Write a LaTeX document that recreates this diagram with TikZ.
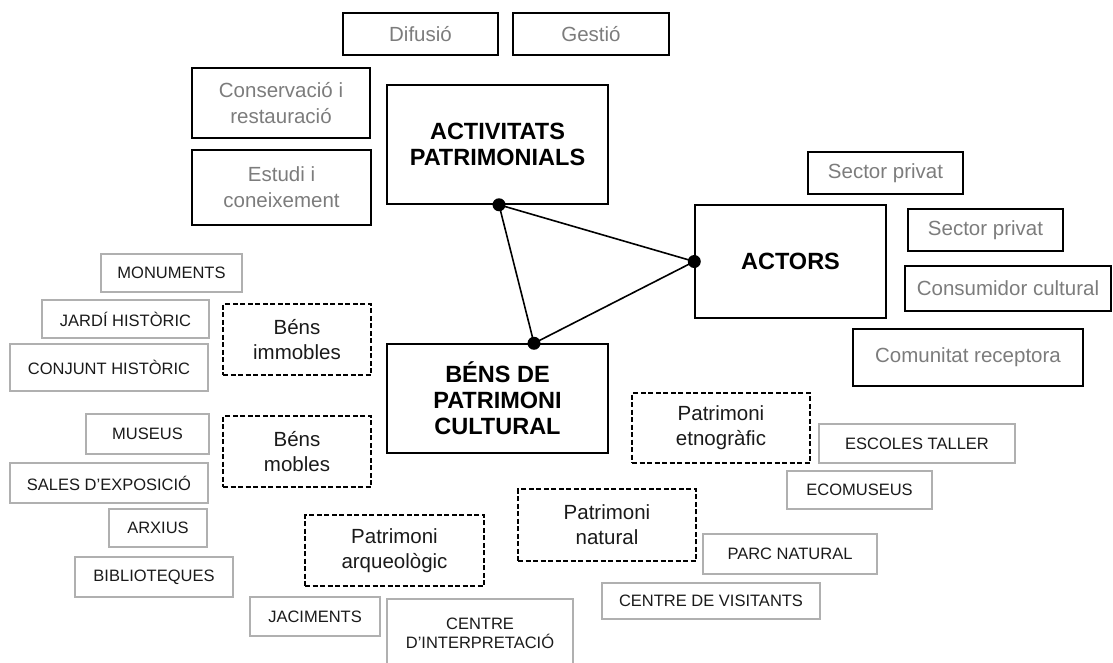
\documentclass[tikz,border=0pt]{standalone}
\usepackage{fontspec}
\setmainfont{Liberation Sans}

\definecolor{txtgray}{HTML}{7C7C7C}
\definecolor{boxgray}{HTML}{B0B0B0}
\definecolor{ink}{HTML}{1A1A1A}

\tikzset{
  sz/.style 2 args={minimum width=#1pt, minimum height=#2pt},
  mainbox/.style={draw=black, line width=1.5pt, inner sep=0pt, align=center,
    text=black, font=\fontsize{23.5}{26}\selectfont\bfseries},
  subbox/.style={draw=black, line width=1.5pt, inner sep=0pt, align=center,
    text=txtgray, font=\fontsize{20.5}{26}\selectfont},
  groupbox/.style={draw=black, line width=1.3pt, dash pattern=on 5pt off 2.5pt,
    inner sep=0pt, align=center, text=ink, font=\fontsize{20.5}{25}\selectfont},
  itembox/.style={draw=boxgray, line width=1.5pt, inner sep=0pt, align=center,
    text=ink, font=\fontsize{16.5}{19}\selectfont},
  tri/.style={line width=1.6pt}
}

\begin{document}
\begin{tikzpicture}[x=1pt, y=-1pt]
\useasboundingbox (0,0) rectangle (1113,662);

% three main blocks
\node[mainbox, sz={221}{119}] (activ)  at (497.5,144.5) {ACTIVITATS\\PATRIMONIALS};
\node[mainbox, sz={191}{113}] (actors) at (790.5,261.5) {ACTORS};
\node[mainbox, sz={221}{109}] (bens)   at (497.5,398.5) {BÉNS DE\\PATRIMONI\\CULTURAL};

% activitats
\node[subbox, sz={155}{42}] (difusio) at (420.5,34)  {Difusió};
\node[subbox, sz={156}{42}] (gestio)  at (591,34)    {Gestió};
\node[subbox, sz={178}{70}] (conserv) at (281,103)   {Conservació i\\restauració};
\node[subbox, sz={179}{75}] (estudi)  at (281.5,187.5) {Estudi i\\coneixement};

% actors
\node[subbox, sz={155}{42}] (privat1) at (885.5,173) {Sector privat};
\node[subbox, sz={155}{42}] (privat2) at (985.5,230) {Sector privat};
\node[subbox, sz={206}{45}] (consum)  at (1008,288.5) {Consumidor cultural};
\node[subbox, sz={230}{57}] (comunit) at (968,357.5) {Comunitat receptora};

% groups of bens
\node[groupbox, sz={148}{71}] (immob)   at (297,339.5) {Béns\\immobles};
\node[groupbox, sz={148}{71}] (mobles)  at (297,451.5) {Béns\\mobles};
\node[groupbox, sz={179}{71}] (arqueo)  at (394.5,550.5) {Patrimoni\\arqueològic};
\node[groupbox, sz={178}{72}] (natural) at (607,525) {Patrimoni\\natural};
\node[groupbox, sz={178}{70}] (etno)    at (721,428) {Patrimoni\\etnogràfic};

% items
\node[itembox, sz={141}{38}] (monum)   at (171.5,273) {MONUMENTS};
\node[itembox, sz={167}{38}] (jardi)   at (125.5,319) {JARDÍ HISTÒRIC};
\node[itembox, sz={198}{47}] (conjunt) at (109,367.5) {CONJUNT HISTÒRIC};
\node[itembox, sz={123}{40}] (museus)  at (147.5,434) {MUSEUS};
\node[itembox, sz={198}{40}] (sales)   at (109,483)   {SALES D'EXPOSICIÓ};
\node[itembox, sz={98}{38}]  (arxius)  at (158,528)   {ARXIUS};
\node[itembox, sz={158}{40}] (biblio)  at (154,577)   {BIBLIOTEQUES};
\node[itembox, sz={130}{39}] (jacim)   at (315,616.5) {JACIMENTS};
\node[itembox, sz={186}{68}] (interp)  at (480,633)   {CENTRE\\D'INTERPRETACIÓ};
\node[itembox, sz={218}{36}] (visit)   at (711,601)   {CENTRE DE VISITANTS};
\node[itembox, sz={174}{40}] (parc)    at (790,554)   {PARC NATURAL};
\node[itembox, sz={145}{38}] (ecomus)  at (859.5,490) {ECOMUSEUS};
\node[itembox, sz={196}{39}] (escoles) at (917,443.5) {ESCOLES TALLER};

% triangle
\coordinate (pa) at ([xshift=1.5pt]activ.south);
\coordinate (pb) at ([xshift=36.5pt]bens.north);
\coordinate (pc) at (actors.west);

\path[tri, draw]
(pa) edge (pc)
(pc) edge (pb)
(pb) edge (pa);
\foreach \p in {pa, pb, pc}
  \fill (\p) circle (6.5pt);
\end{tikzpicture}
\end{document}
